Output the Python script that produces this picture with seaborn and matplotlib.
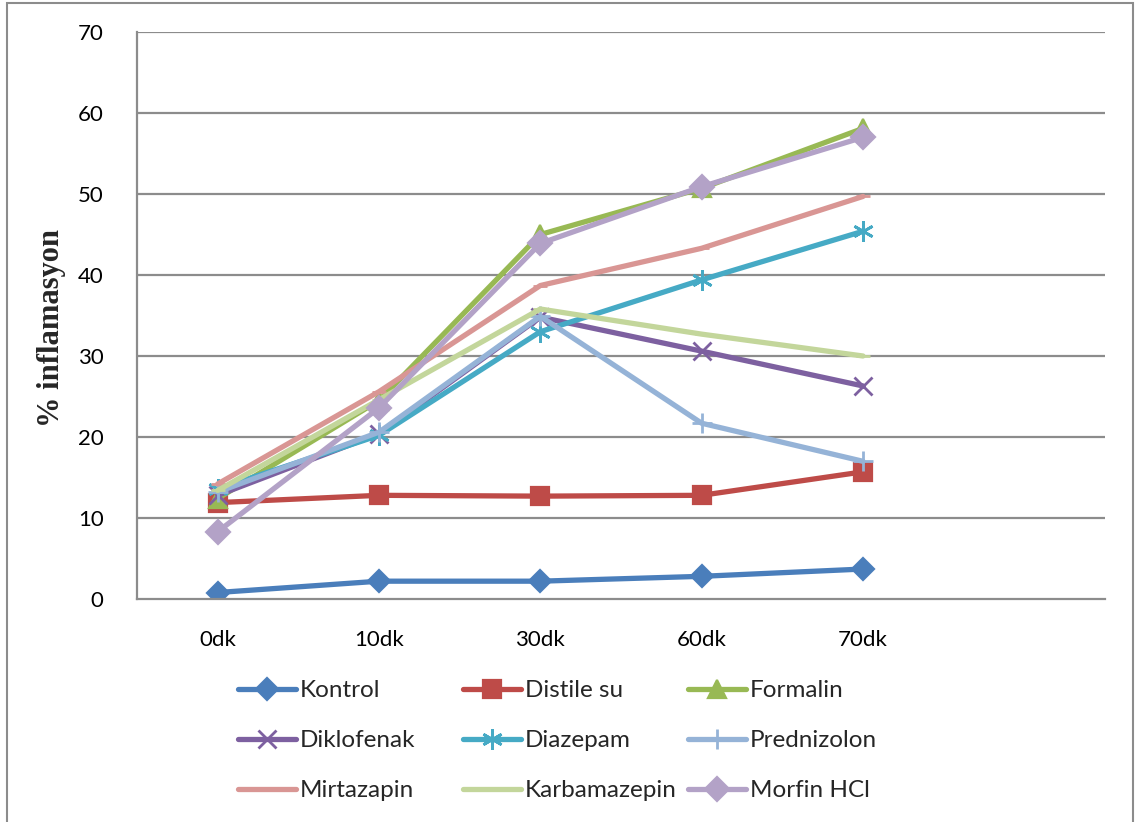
import matplotlib
matplotlib.use("Agg")
import matplotlib.pyplot as plt
from matplotlib.patches import Rectangle
from matplotlib.lines import Line2D
import seaborn as sns
import pandas as pd

# Time points (minutes after injection)
times = ["0dk", "10dk", "30dk", "60dk", "70dk"]

# % inflammation per group
kontrol = [0.8, 2.2, 2.2, 2.8, 3.7]
distile_su = [11.9, 12.8, 12.7, 12.8, 15.7]
formalin = [12.4, 24.5, 45.0, 50.7, 58.1]
diklofenak = [12.8, 20.4, 34.8, 30.6, 26.3]
diazepam = [13.6, 20.2, 33.0, 39.4, 45.4]
prednizolon = [13.2, 20.6, 34.9, 21.7, 17.0]
mirtazapin = [14.2, 25.6, 38.7, 43.3, 49.7]
karbamazepin = [13.4, 24.6, 35.8, 32.7, 30.0]
morfin = [8.3, 23.6, 43.9, 50.9, 57.0]

names = ["Kontrol", "Distile su", "Formalin", "Diklofenak", "Diazepam",
         "Prednizolon", "Mirtazapin", "Karbamazepin", "Morfin HCl"]
values = [kontrol, distile_su, formalin, diklofenak, diazepam,
          prednizolon, mirtazapin, karbamazepin, morfin]

colors = ["#4A7EBB", "#BE4B48", "#98B954", "#7D60A0", "#46AAC5",
          "#95B3D7", "#D99694", "#C3D69B", "#B3A2C7"]
markers = ["D", "s", "^", "x", (6, 2, 0), "+", "_", "_", "D"]
msizes = [11, 13, 13, 13, 15, 15, 10, 10, 12]

sns.set_theme(style="white")
plt.rcParams["font.family"] = ["Lato", "DejaVu Sans"]

fig = plt.figure(figsize=(11.4, 8.22), dpi=100)
ax = fig.add_axes([137 / 1140, 1 - 599 / 822, (1105 - 137) / 1140, (599 - 32) / 822])

grid_col = "#8C8C8C"
for v in range(10, 71, 10):
    ax.axhline(v, color=grid_col, lw=1.6, zorder=0)

handles = []
for name, vals, c, m, ms in zip(names, values, colors, markers, msizes):
    df = pd.DataFrame({"x": range(len(times)), "y": vals})
    filled = m not in ("x", "+", "_") and not isinstance(m, tuple)
    kw = dict(marker=m, markersize=ms, color=c, linewidth=3.8,
              markeredgewidth=1.6 if filled else 2.0,
              markerfacecolor=c, markeredgecolor=c)
    sns.lineplot(data=df, x="x", y="y", ax=ax, legend=False, **kw)
    handles.append(Line2D([0], [0], label=name, **kw))

ax.set_xlim(-0.5, 5.5)
ax.set_ylim(0, 70)
ax.set_yticks(range(0, 71, 10))
ax.set_xticks(range(len(times)))
ax.set_xticklabels(times)
ax.tick_params(axis="y", length=0, pad=24, labelsize=16, colors="black")
ax.tick_params(axis="x", length=0, pad=22, labelsize=16, colors="black")
for s in ["top", "right"]:
    ax.spines[s].set_visible(False)
for s in ["left", "bottom"]:
    ax.spines[s].set_color(grid_col)
    ax.spines[s].set_linewidth(1.6)
ax.set_xlabel("")
ax.set_ylabel("% inflamasyon", family=["Liberation Serif"], fontweight="bold",
              fontsize=22, va="center")
ax.yaxis.set_label_coords((52 - 137) / 968, (599 - 328) / 567)

# Legend laid out in three columns
col_x = [238 / 1140, 463 / 1140, 688 / 1140]
for ci in range(3):
    hs = [handles[ci + 3 * r] for r in range(3)]
    fig.legend(handles=hs, loc="upper left",
               bbox_to_anchor=(col_x[ci], 1 - 680 / 822),
               frameon=False, fontsize=17.5, handlelength=2.4,
               handletextpad=0.15, labelspacing=1.2, borderaxespad=0,
               borderpad=0)

# Chart area border
fig.add_artist(Rectangle((7 / 1140, -0.02), (1133 - 7) / 1140, 1.02 - 3 / 822,
                         transform=fig.transFigure, fill=False,
                         edgecolor=grid_col, lw=1.5))

fig.savefig("out.png", dpi=100, facecolor="white")
